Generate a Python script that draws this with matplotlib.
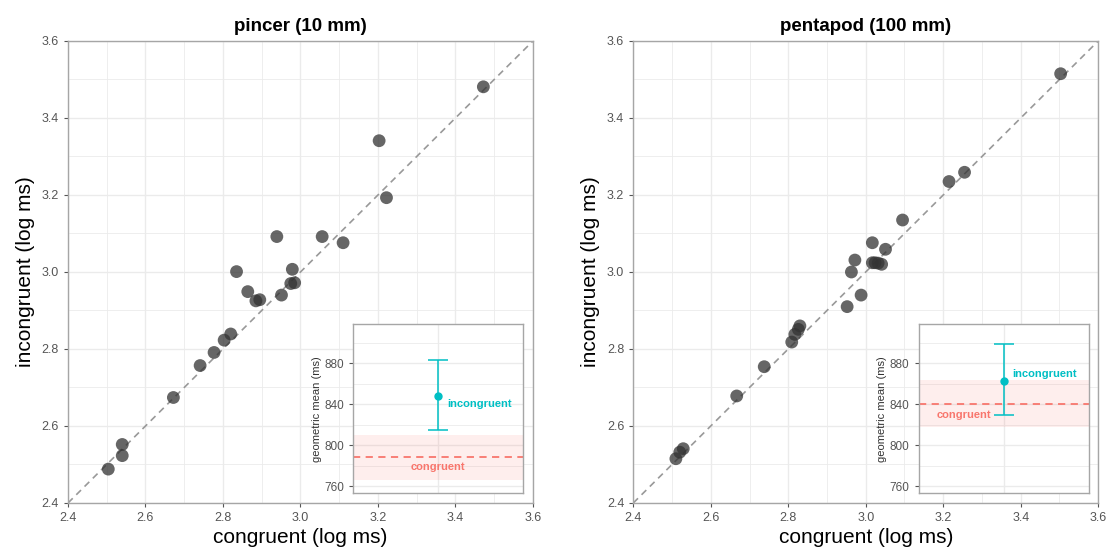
import numpy as np
import matplotlib.pyplot as plt

plt.rcParams['font.family'] = ['Liberation Sans', 'DejaVu Sans']

# data (log10 ms)
pincer_cong = [2.504, 2.540, 2.540, 2.672, 2.741, 2.777, 2.803, 2.820, 2.835, 2.864,
               2.885, 2.895, 2.939, 2.951, 2.975, 2.985, 2.979, 3.056, 3.110, 3.203,
               3.222, 3.472]
pincer_incong = [2.488, 2.523, 2.552, 2.674, 2.757, 2.791, 2.823, 2.839, 3.001, 2.949,
                 2.925, 2.928, 3.092, 2.940, 2.970, 2.972, 3.007, 3.092, 3.076, 3.341,
                 3.193, 3.481]

penta_cong = [2.510, 2.520, 2.529, 2.667, 2.738, 2.809, 2.817, 2.826, 2.830, 2.952,
              2.963, 2.972, 2.988, 3.017, 3.024, 3.032, 3.041, 3.017, 3.051, 3.095,
              3.215, 3.255, 3.503]
penta_incong = [2.515, 2.532, 2.541, 2.678, 2.754, 2.818, 2.838, 2.851, 2.860, 2.910,
                3.000, 3.031, 2.940, 3.024, 3.024, 3.023, 3.020, 3.076, 3.059, 3.135,
                3.235, 3.259, 3.515]

# inset summaries (geometric mean, ms)
pincer_summary = {"incong": 848, "incong_lo": 815, "incong_hi": 883,
                  "cong": 788, "cong_lo": 766, "cong_hi": 810}
penta_summary = {"incong": 863, "incong_lo": 829, "incong_hi": 899,
                 "cong": 840.5, "cong_lo": 818, "cong_hi": 864}

titles = ["pincer (10 mm)", "pentapod (100 mm)"]

GRID = "#EBEBEB"
TICK = "#555555"
BORDER = "#A6A6A6"
CYAN = "#00BFC4"
RED = "#F8766D"

fig = plt.figure(figsize=(11.11, 5.6), dpi=100)


def style_axes(ax):
    ax.set_facecolor("white")
    for s in ax.spines.values():
        s.set_color(BORDER)
        s.set_linewidth(1.0)
    ax.grid(which="major", color=GRID, linewidth=1.0, zorder=0)
    ax.grid(which="minor", color=GRID, linewidth=0.6, zorder=0)
    ax.tick_params(colors=TICK, labelcolor=TICK, which="major", length=3)
    ax.tick_params(which="minor", length=0)
    ax.set_axisbelow(True)


def panel(left, x, y, title, summ):
    ax = fig.add_axes([left, 0.1018, 0.4185, 0.825])
    style_axes(ax)
    ax.plot([2.4, 3.6], [2.4, 3.6], color="#999999", ls=(0, (4, 3)), lw=1.2, zorder=1)
    ax.scatter(x, y, s=85, color="#333333", alpha=0.75, edgecolors="none", zorder=3)
    ax.set_xlim(2.4, 3.6)
    ax.set_ylim(2.4, 3.6)
    ticks = np.arange(2.4, 3.61, 0.2)
    ax.set_xticks(ticks)
    ax.set_yticks(ticks)
    ax.set_xticks(np.arange(2.5, 3.6, 0.2), minor=True)
    ax.set_yticks(np.arange(2.5, 3.6, 0.2), minor=True)
    ax.set_xticklabels([f"{t:.1f}" for t in ticks], fontsize=9)
    ax.set_yticklabels([f"{t:.1f}" for t in ticks], fontsize=9)
    ax.set_xlabel("congruent (log ms)", fontsize=15, labelpad=3)
    ax.set_ylabel("incongruent (log ms)", fontsize=15, labelpad=5)
    ax.set_title(title, fontsize=13.5, fontweight="bold", pad=7)

    ins = fig.add_axes([left + 0.2568, 0.119, 0.153, 0.302])
    style_axes(ins)
    ins.set_xlim(0.4, 1.6)
    ins.set_ylim(753, 918)
    ins.set_xticks([1])
    ins.set_xticklabels([])
    ins.tick_params(axis="x", length=0)
    ins.set_yticks([760, 800, 840, 880])
    ins.set_yticks([780, 820, 860, 900], minor=True)
    ins.set_yticklabels(["760", "800", "840", "880"], fontsize=8.5)
    ins.set_ylabel("geometric mean (ms)", fontsize=8, color="#333333", labelpad=2)
    ins.axhspan(summ["cong_lo"], summ["cong_hi"], color=RED, alpha=0.12, lw=0, zorder=1)
    ins.axhline(summ["cong"], color=RED, ls=(0, (4, 3)), lw=1.3, zorder=2)
    ins.errorbar([1], [summ["incong"]],
                 yerr=[[summ["incong"] - summ["incong_lo"]], [summ["incong_hi"] - summ["incong"]]],
                 fmt="o", color=CYAN, ms=5, capsize=7, elinewidth=1.1, capthick=1.1, zorder=3)
    return ax, ins


ax1, in1 = panel(0.0612, pincer_cong, pincer_incong, titles[0], pincer_summary)
in1.text(1.06, pincer_summary["incong"] - 8, "incongruent", color=CYAN, fontsize=8,
         fontweight="bold", ha="left", va="center")
in1.text(1.0, pincer_summary["cong"] - 9, "congruent", color=RED, fontsize=8,
         fontweight="bold", ha="center", va="center")

ax2, in2 = panel(0.5700, penta_cong, penta_incong, titles[1], penta_summary)
in2.text(1.06, penta_summary["incong"] + 6, "incongruent", color=CYAN, fontsize=8,
         fontweight="bold", ha="left", va="center")
in2.text(0.72, penta_summary["cong"] - 11, "congruent", color=RED, fontsize=8,
         fontweight="bold", ha="center", va="center")

fig.savefig("out.png", dpi=100)
